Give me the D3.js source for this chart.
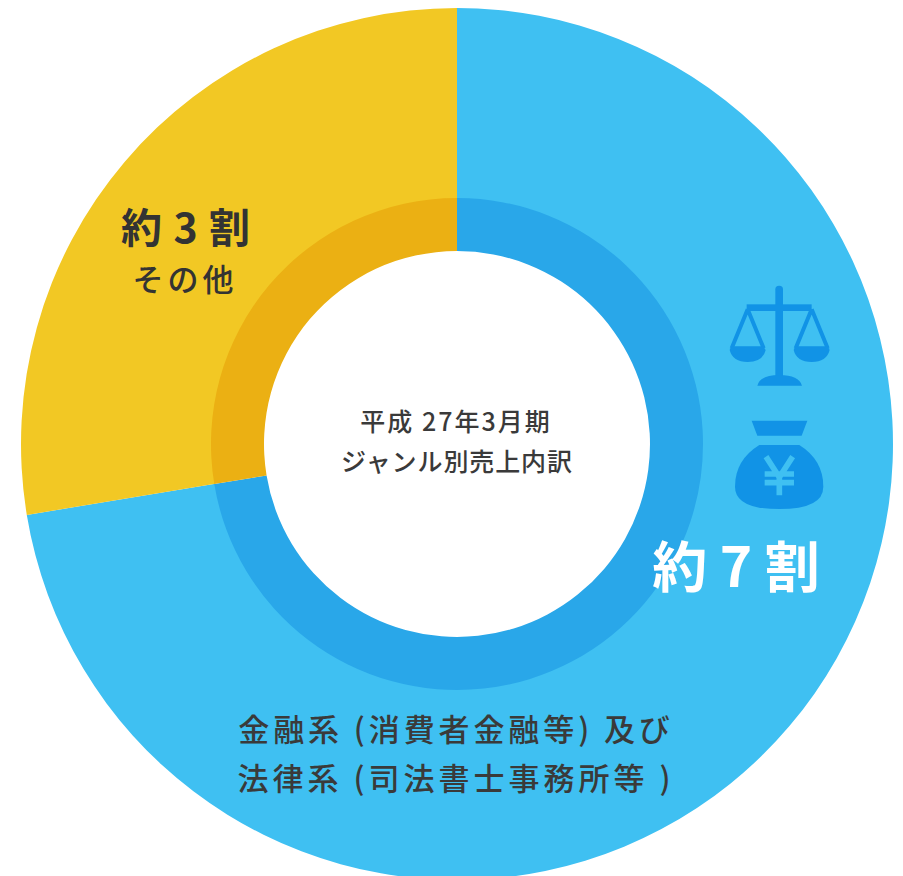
<!DOCTYPE html>
<html><head><meta charset="utf-8">
<script src="https://cdn.jsdelivr.net/npm/d3@7"></script>
<style>
html,body{margin:0;padding:0;background:#fff}
svg{display:block}
text{font-family:"Noto Sans CJK JP","Noto Sans",sans-serif;text-anchor:middle}
</style></head><body>
<svg id="c" width="903" height="876"></svg>
<script>
const categories=["金融系及び法律系","その他"];
const shares=[72.4,27.6];
const outerColors=["#3fc0f2","#f2c824"];
const innerColors=["#29a7e9","#ebb013"];
const cx=457,cy=444,rOuter=436,rMid=246,rInner=193;
const svg=d3.select("#c");
const g=svg.append("g").attr("transform",`translate(${cx},${cy})`);
const pie=d3.pie().sort(null)(shares);
const arcO=d3.arc().innerRadius(rMid-1).outerRadius(rOuter);
const arcI=d3.arc().innerRadius(rInner).outerRadius(rMid);
g.selectAll("path.o").data(pie).join("path").attr("class","o").attr("d",arcO).attr("fill",(d,i)=>outerColors[i]);
g.selectAll("path.i").data(pie).join("path").attr("class","i").attr("d",arcI).attr("fill",(d,i)=>innerColors[i]);

const labels=[
 {t:"平成 27年3月期",x:456,y:431,s:25,w:500,c:"#3a3a3a",ls:2},
 {t:"ジャンル別売上内訳",x:457,y:471,s:25,w:500,c:"#3a3a3a",ls:0.9},
 {t:"約 3 割",x:186,y:243,s:41,w:700,c:"#333333",ls:1},
 {t:"その他",x:185,y:291,s:31,w:500,c:"#333333",ls:4},
 {t:"約 7 割",x:736,y:587,s:55,w:700,c:"#ffffff",ls:0},
 {t:"金融系 (消費者金融等) 及び",x:456,y:741,s:31,w:500,c:"#3a3a3a",ls:3.9},
 {t:"法律系 (司法書士事務所等 )",x:456,y:790,s:31,w:500,c:"#3a3a3a",ls:4}
];
svg.selectAll("text").data(labels).join("text")
 .attr("x",d=>d.x).attr("y",d=>d.y).attr("font-size",d=>d.s).attr("font-weight",d=>d.w)
 .attr("fill",d=>d.c).attr("letter-spacing",d=>d.ls).text(d=>d.t);

const ic="#1193e6";
const icons=svg.append("g").attr("transform","translate(700,270) scale(0.3333)").attr("fill",ic);
// scales
icons.append("rect").attr("x",226).attr("y",47).attr("width",23).attr("height",280).attr("rx",11);
icons.append("rect").attr("x",140).attr("y",103).attr("width",195).attr("height",20);
icons.append("path").attr("d","M172 347 Q180 315 238 315 Q297 315 306 347 Z");
const pan=(x)=>{
 icons.append("path").attr("d",`M${x} 118 L${x-48} 235 M${x} 118 L${x+48} 235`).attr("stroke",ic).attr("stroke-width",12).attr("fill","none");
 icons.append("path").attr("d",`M${x-54} 240 Q${x-50} 229 ${x-40} 229 L${x+40} 229 Q${x+50} 229 ${x+54} 240 Q${x+45} 276 ${x} 276 Q${x-45} 276 ${x-54} 240 Z`);
};
pan(143);pan(335);
// money bag
icons.append("path").attr("d","M155 452 L322 452 L305 497 L172 497 Z");
icons.append("path").attr("d","M178 525 L298 525 Q370 570 370 650 Q370 717 238 717 Q105 717 105 650 Q105 570 178 525 Z");
icons.append("path").attr("fill","none").attr("stroke","#3fc0f2").attr("stroke-width",17)
 .attr("d","M198 560 L238 622 L278 560 M238 622 L238 676 M194 612 L282 612 M194 638 L282 638");
</script>
</body></html>
